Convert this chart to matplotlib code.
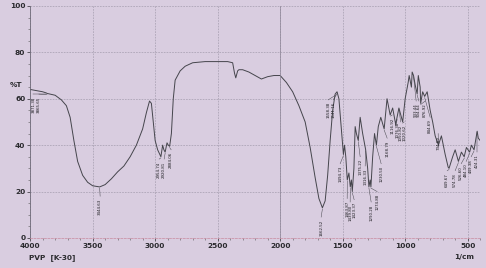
import matplotlib
matplotlib.use('Agg')
import matplotlib.pyplot as plt
from matplotlib.ticker import MultipleLocator

wavenumber = [4000, 3950, 3900, 3871, 3865, 3800, 3750, 3710, 3680, 3650, 3620, 3580, 3540,
              3500, 3444, 3400, 3350, 3300, 3250, 3200, 3150, 3100, 3070, 3045, 3030, 3015,
              3000, 2980, 2954, 2940, 2930, 2920, 2905, 2895, 2884, 2870, 2855, 2840, 2800,
              2760, 2700, 2600, 2500, 2420, 2380, 2365, 2355, 2340, 2330, 2300, 2250, 2200,
              2150, 2100, 2050, 2000, 1950, 1900, 1850, 1800, 1760, 1720, 1690, 1662, 1640,
              1620, 1600, 1580, 1560, 1545, 1530, 1515, 1500, 1494, 1485, 1475, 1463, 1450,
              1439, 1430, 1423, 1410, 1400, 1390, 1375, 1360, 1340, 1316, 1300, 1290, 1280,
              1274, 1260, 1245, 1230, 1215, 1195, 1168, 1145, 1120, 1100, 1076, 1050, 1020,
              1000, 976, 968, 950, 944, 933, 920, 904, 895, 880, 876, 860, 844, 824, 800,
              780, 760, 734, 710, 680, 656, 649, 620, 600, 584, 574, 550, 528, 510, 484,
              470, 449, 430, 424, 415, 400]
transmittance = [64, 63.5, 63, 62.5, 62.3, 61.5, 59.5, 57, 52, 42, 33, 27, 24,
                 22.5, 22, 23, 25.5, 28.5, 31, 35, 40, 47, 54, 59, 58, 50,
                 42, 38, 35, 40, 38, 37, 41, 40, 39.5, 45, 60, 68, 72,
                 74, 75.5, 76, 76, 76, 75.5, 71, 69, 72, 72.5, 72.5, 71.5, 70,
                 68.5, 69.5, 70, 70, 67, 63, 57, 50, 39, 26, 17, 13, 16,
                 27, 42, 55, 62, 63, 60, 50, 40, 36, 40, 35, 25, 28,
                 22, 25, 20, 30, 48, 45, 42, 52, 45, 38, 30, 22, 25,
                 22, 35, 45, 40, 48, 52, 47, 60, 53, 56, 49, 56, 50,
                 60, 67, 70, 65, 71.5, 70, 66, 62, 70, 65, 58, 63, 61, 63, 55,
                 50, 44, 40, 44, 36, 30.5, 30, 35, 38, 35, 33, 37, 35, 39, 37,
                 40, 38, 44, 46, 43, 42]

peak_labels = ['3871.38', '3865.65', '3444.63', '2954.74', '2920.81', '2884.06', '1662.52',
               '1558.38', '1541.16', '1494.73', '1463.87', '1439.80', '1423.37', '1375.22',
               '1316.33', '1290.28', '1274.88', '1230.50', '1168.79', '1116.92', '1076.38',
               '1050.82', '1020.62', '933.44', '904.64', '876.92', '844.69', '734.89',
               '649.67', '574.78', '526.60', '484.10', '449.38', '424.31']
peak_wn = [3871, 3865, 3444, 2954, 2920, 2884, 1662, 1558, 1541, 1494, 1463, 1439, 1423, 1375,
           1316, 1290, 1274, 1230, 1168, 1116, 1076, 1050, 1020, 933, 904, 876, 844, 734,
           649, 574, 526, 484, 449, 424]
peak_t = [62.5, 62.3, 22, 35, 37, 39.5, 13, 62, 63, 36, 25, 22, 20, 42, 38, 22, 22, 40, 47,
          53, 49, 56, 50, 70, 62, 58, 61, 40, 30, 33, 35, 37, 38, 46]
# position du texte (x, haut du texte)
label_x = [3975, 3930, 3440, 2968, 2928, 2872, 1672, 1616, 1576, 1520, 1464, 1440, 1408, 1360,
           1320, 1272, 1224, 1192, 1144, 1104, 1064, 1036, 1008, 912, 890, 840, 800, 736,
           664, 600, 552, 512, 472, 424]
label_top = [61, 61, 17, 33, 33, 37, 8, 58.5, 58.5, 31, 16, 14.5, 15.5, 34, 30, 14.5, 19, 31,
             42, 52, 50, 49, 49, 58, 58, 58, 51, 44, 28, 28, 31, 32, 34, 36]

bg = '#d9cde0'
fig = plt.figure(figsize=(4.86, 2.68), dpi=100, facecolor=bg)
ax = fig.add_axes([0.062, 0.112, 0.926, 0.866], facecolor=bg)

ax.plot(wavenumber, transmittance, color='#45454c', lw=0.7)

for lab, wn, t, tx, ty in zip(peak_labels, peak_wn, peak_t, label_x, label_top):
    ax.plot([wn, tx], [t - 0.5, ty + 1], color='#45454c', lw=0.35)
    ax.text(tx, ty, lab, rotation=90, fontsize=2.9, ha='center', va='top', color='#1e1e22')

ax.set_xlim(4000, 400)
ax.set_ylim(0, 100)
ax.set_xticks([4000, 3500, 3000, 2500, 2000, 1500, 1000, 500])
ax.set_yticks([0, 20, 40, 60, 80, 100])
ax.xaxis.set_minor_locator(MultipleLocator(100))
ax.yaxis.set_minor_locator(MultipleLocator(5))
ax.tick_params(labelsize=5.3, length=2, width=0.5, pad=1.5, colors='#2a2a2e')
ax.tick_params(which='minor', length=1.2, width=0.4, colors='#555')
for lbl in ax.get_xticklabels() + ax.get_yticklabels():
    lbl.set_fontweight('bold')
ax.grid(True, ls=(0, (3, 2)), lw=0.4, color='#9890a2')
for s in ['top', 'right']:
    ax.spines[s].set_visible(False)
ax.spines['left'].set_color('#6e6a78')
ax.spines['left'].set_linewidth(0.6)
ax.spines['bottom'].set_color('#c98a9e')
ax.spines['bottom'].set_linewidth(0.5)
ax.spines['bottom'].set_linestyle((0, (3, 2)))
ax.axvline(2000, color='#8c8496', lw=0.5)
ax.axvline(400, color='#8c8496', lw=0.5)

fig.text(0.02, 0.675, '%T', fontsize=5.3, color='#2a2a2e', fontweight='bold')
fig.text(0.06, 0.035, 'PVP  [K-30]', fontsize=5.3, color='#2a2a2e', fontweight='bold')
fig.text(0.935, 0.035, '1/cm', fontsize=5.3, color='#2a2a2e', fontweight='bold')

fig.savefig('out.png', dpi=100, facecolor=bg)
